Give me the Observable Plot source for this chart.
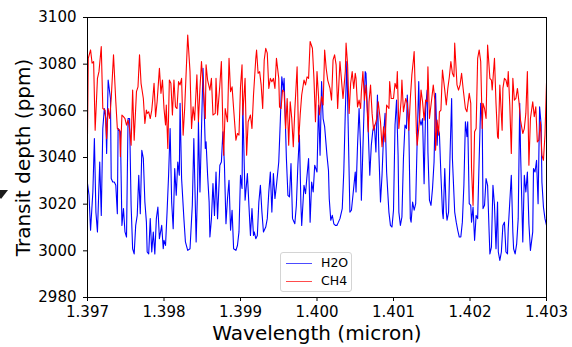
<!DOCTYPE html>
<html>
<head>
<meta charset="utf-8">
<script src="https://cdn.jsdelivr.net/npm/d3@7"></script>
<script src="https://cdn.jsdelivr.net/npm/@observablehq/plot@0.6"></script>
<style>
  html, body { margin: 0; padding: 0; background: #fff; }
  #wrap { position: relative; width: 572px; height: 347px; overflow: hidden; font-family: "DejaVu Sans", sans-serif; }
  #legend { position: absolute; left: 280px; top: 252px; width: 72px; height: 40px; border: 1px solid #d4d4d4; border-radius: 3px; background: rgba(255,255,255,0.85); box-sizing: border-box; }
  .row { position: absolute; left: 0; height: 14px; font-size: 12.5px; line-height: 14px; color: #000; }
  .sw { position: absolute; left: 5px; top: 7px; width: 26px; height: 0; border-top: 1.2px solid; }
  .lab { position: absolute; left: 40px; top: 0; white-space: nowrap; }
  #tri { position: absolute; left: -6px; top: 190px; width: 0; height: 0; border-left: 7px solid transparent; border-right: 7px solid transparent; border-top: 9px solid #1a1a1a; }
</style>
</head>
<body>
<div id="wrap"></div>
<script>
const xTicks = [1.397, 1.398, 1.399, 1.400, 1.401, 1.402, 1.403];
const yTicks = [2980, 3000, 3020, 3040, 3060, 3080, 3100];
const seriesNames = ["H2O", "CH4"];
const seriesColors = ["blue", "red"];

// [wavelength (micron), transit depth (ppm)]
const h2o = [
[1.39700,3028.8],[1.39702,3023.8],[1.39704,3008.8],[1.39707,3025.2],[1.39709,3048.1],[1.39711,3016.6],[1.39713,3008.1],[1.39716,3038.1],[1.39718,3015.2],[1.39720,3052.4],[1.39722,3061.0],[1.39724,3056.7],[1.39725,3041.7],[1.39727,3073.2],[1.39730,3065.3],[1.39731,3031.0],[1.39733,3029.5],[1.39735,3029.5],[1.39737,3028.1],[1.39739,3015.9],[1.39740,3052.4],[1.39743,3051.0],[1.39745,3010.9],[1.39747,3018.1],[1.39749,3008.1],[1.39751,3005.9],[1.39753,3056.7],[1.39755,3056.7],[1.39757,3019.5],[1.39759,3000.9],[1.39761,2998.7],[1.39763,3010.9],[1.39765,3015.2],[1.39767,3032.4],[1.39769,3015.9],[1.39771,3043.1],[1.39773,3039.6],[1.39775,3020.9],[1.39777,3012.3],[1.39778,2999.5],[1.39780,2998.7],[1.39782,3013.8],[1.39784,2999.5],[1.39786,3008.1],[1.39788,2998.7],[1.39790,3013.8],[1.39792,3018.8],[1.39794,3005.2],[1.39797,3010.9],[1.39799,3000.9],
[1.39800,3004.5],[1.39802,3002.3],[1.39804,3016.6],[1.39806,3032.4],[1.39808,3052.4],[1.39810,3020.9],[1.39812,3009.5],[1.39814,3035.3],[1.39816,3023.8],[1.39818,3038.1],[1.39820,3032.4],[1.39821,3063.2],[1.39823,3031.0],[1.39826,3013.8],[1.39828,3003.8],[1.39831,3000.2],[1.39834,3000.9],[1.39837,3019.5],[1.39839,3048.1],[1.39842,3003.8],[1.39844,3028.1],[1.39845,3055.3],[1.39847,3025.2],[1.39850,3065.3],[1.39851,3078.2],[1.39854,3043.9],[1.39855,3046.7],[1.39857,3032.4],[1.39859,3020.9],[1.39860,3005.9],[1.39862,3013.8],[1.39864,3028.8],[1.39866,3015.2],[1.39868,3033.8],[1.39870,3013.8],[1.39873,3036.7],[1.39875,3038.1],[1.39877,3051.0],[1.39879,3036.7],[1.39881,3011.6],[1.39883,3022.4],[1.39885,3030.2],[1.39887,3008.8],[1.39889,3017.4],[1.39891,3000.9],[1.39894,3000.2],[1.39896,3002.3],[1.39898,3008.1],
[1.39900,3032.4],[1.39902,3026.7],[1.39903,3063.2],[1.39906,3021.7],[1.39909,3033.1],[1.39911,3019.5],[1.39913,3006.6],[1.39915,3018.1],[1.39917,3006.6],[1.39918,3008.1],[1.39920,3005.2],[1.39922,3006.6],[1.39924,3020.9],[1.39926,3028.1],[1.39928,3016.6],[1.39930,3008.1],[1.39933,3010.2],[1.39935,3013.8],[1.39937,3025.2],[1.39939,3033.8],[1.39941,3016.6],[1.39943,3033.1],[1.39945,3022.4],[1.39947,3028.1],[1.39950,3038.1],[1.39952,3055.3],[1.39954,3074.6],[1.39956,3068.9],[1.39957,3073.9],[1.39960,3039.6],[1.39962,3023.8],[1.39964,3023.1],[1.39966,3037.4],[1.39968,3013.8],[1.39971,3011.6],[1.39973,3019.5],[1.39975,3036.7],[1.39977,3049.6],[1.39979,3019.5],[1.39980,3010.9],[1.39983,3028.1],[1.39985,3024.5],[1.39987,3032.4],[1.39989,3039.6],[1.39991,3012.3],[1.39993,3029.5],[1.39995,3025.2],[1.39997,3036.7],
[1.40000,3033.8],[1.40002,3062.5],[1.40004,3041.0],[1.40006,3072.5],[1.40008,3056.7],[1.40010,3053.2],[1.40013,3041.0],[1.40015,3034.5],[1.40016,3022.4],[1.40018,3013.1],[1.40020,3015.2],[1.40022,3011.6],[1.40024,3010.9],[1.40026,3010.9],[1.40028,3012.3],[1.40030,3013.8],[1.40033,3018.1],[1.40035,3033.8],[1.40037,3059.6],[1.40039,3081.1],[1.40041,3049.6],[1.40043,3016.6],[1.40045,3017.4],[1.40047,3023.8],[1.40050,3033.8],[1.40051,3025.2],[1.40053,3045.3],[1.40055,3061.0],[1.40057,3043.9],[1.40058,3021.7],[1.40060,3043.9],[1.40063,3076.8],[1.40064,3076.1],[1.40067,3051.0],[1.40069,3032.4],[1.40071,3045.3],[1.40073,3051.7],[1.40075,3053.9],[1.40077,3042.4],[1.40079,3066.8],[1.40081,3041.0],[1.40083,3020.9],[1.40085,3032.4],[1.40087,3049.6],[1.40089,3058.9],[1.40091,3033.8],[1.40094,3016.6],[1.40096,3010.9],[1.40098,3010.2],
[1.40100,3017.4],[1.40102,3053.9],[1.40104,3064.6],[1.40106,3041.0],[1.40107,3016.6],[1.40109,3010.9],[1.40111,3014.5],[1.40113,3039.6],[1.40115,3053.9],[1.40117,3052.4],[1.40118,3066.8],[1.40120,3052.4],[1.40122,3013.8],[1.40123,3012.3],[1.40125,3020.9],[1.40127,3017.4],[1.40129,3020.2],[1.40131,3048.1],[1.40133,3072.5],[1.40134,3056.7],[1.40136,3053.9],[1.40138,3056.7],[1.40140,3028.8],[1.40142,3061.0],[1.40144,3068.9],[1.40145,3042.4],[1.40147,3021.7],[1.40149,3019.5],[1.40151,3026.7],[1.40153,3038.1],[1.40155,3067.5],[1.40157,3045.3],[1.40158,3052.4],[1.40160,3050.3],[1.40162,3032.4],[1.40164,3016.6],[1.40165,3013.8],[1.40167,3035.3],[1.40169,3016.6],[1.40170,3013.1],[1.40172,3016.6],[1.40174,3042.4],[1.40176,3065.3],[1.40177,3039.6],[1.40180,3016.6],[1.40182,3012.3],[1.40184,3008.8],[1.40186,3005.9],[1.40188,3005.9],[1.40190,3012.3],[1.40192,3028.1],[1.40194,3055.3],[1.40196,3048.9],[1.40197,3055.3],
[1.40199,3020.2],[1.40201,3019.5],[1.40202,3012.3],[1.40204,3018.8],[1.40206,3004.5],[1.40208,3015.2],[1.40210,3013.8],[1.40212,3039.6],[1.40214,3063.2],[1.40216,3055.3],[1.40217,3018.1],[1.40219,3019.5],[1.40221,3031.0],[1.40223,3028.1],[1.40225,3008.1],[1.40226,2998.7],[1.40228,3001.6],[1.40230,3028.1],[1.40232,3019.5],[1.40234,3000.9],[1.40236,3020.9],[1.40237,2999.5],[1.40239,2995.9],[1.40241,2999.5],[1.40243,3010.9],[1.40245,3012.3],[1.40247,2999.5],[1.40249,2998.7],[1.40250,3009.5],[1.40252,3020.9],[1.40254,3032.4],[1.40256,3008.1],[1.40257,3000.9],[1.40259,2998.7],[1.40261,3003.0],[1.40263,3013.8],[1.40265,3063.2],[1.40266,3043.9],[1.40269,3003.8],[1.40271,3032.4],[1.40273,3025.2],[1.40275,3033.8],[1.40277,3011.6],[1.40279,3000.2],[1.40282,3008.1],[1.40283,3035.3],[1.40285,3033.8],[1.40287,3038.8],[1.40289,3020.2],[1.40291,3061.7],[1.40293,3053.9],[1.40294,3029.5],[1.40296,3018.8],[1.40298,3013.8],[1.40300,3010.9]
];

const ch4 = [
[1.39700,3050.0],[1.39701,3082.5],[1.39704,3086.1],[1.39706,3080.4],[1.39708,3081.1],[1.39710,3051.7],[1.39713,3073.9],[1.39715,3076.8],[1.39718,3087.5],[1.39720,3061.0],[1.39723,3060.3],[1.39725,3048.1],[1.39727,3061.0],[1.39729,3056.7],[1.39731,3065.3],[1.39734,3084.0],[1.39737,3063.9],[1.39739,3052.4],[1.39742,3051.7],[1.39743,3040.3],[1.39745,3058.2],[1.39747,3057.5],[1.39749,3056.7],[1.39751,3053.9],[1.39753,3056.0],[1.39755,3052.4],[1.39757,3045.3],[1.39759,3068.9],[1.39761,3047.4],[1.39764,3068.2],[1.39766,3070.3],[1.39768,3084.0],[1.39770,3071.8],[1.39773,3065.3],[1.39775,3054.6],[1.39777,3060.3],[1.39778,3058.9],[1.39780,3059.6],[1.39782,3056.7],[1.39784,3060.3],[1.39785,3063.9],[1.39787,3071.8],[1.39789,3057.5],[1.39791,3063.9],[1.39794,3078.2],[1.39796,3067.5],[1.39798,3073.2],
[1.39800,3061.0],[1.39802,3053.9],[1.39803,3062.5],[1.39805,3043.9],[1.39807,3073.2],[1.39809,3071.8],[1.39811,3058.2],[1.39813,3073.2],[1.39815,3061.7],[1.39817,3061.0],[1.39819,3072.5],[1.39821,3071.1],[1.39823,3073.9],[1.39825,3049.6],[1.39827,3061.0],[1.39829,3076.8],[1.39831,3092.5],[1.39834,3076.8],[1.39836,3052.4],[1.39838,3061.7],[1.39840,3056.0],[1.39843,3075.4],[1.39845,3055.3],[1.39847,3069.6],[1.39849,3081.1],[1.39851,3071.1],[1.39854,3056.7],[1.39855,3079.7],[1.39857,3073.2],[1.39860,3068.9],[1.39862,3073.9],[1.39864,3058.2],[1.39867,3058.9],[1.39868,3073.9],[1.39870,3058.2],[1.39873,3071.1],[1.39875,3081.1],[1.39877,3052.4],[1.39878,3041.0],[1.39880,3061.0],[1.39883,3055.3],[1.39885,3082.5],[1.39887,3068.2],[1.39889,3070.3],[1.39891,3061.0],[1.39894,3047.4],[1.39896,3050.3],[1.39898,3049.6],
[1.39900,3070.3],[1.39902,3079.7],[1.39903,3058.2],[1.39906,3073.9],[1.39908,3041.0],[1.39910,3055.3],[1.39913,3058.2],[1.39915,3052.4],[1.39917,3066.8],[1.39920,3082.5],[1.39921,3086.1],[1.39923,3076.1],[1.39925,3076.8],[1.39927,3071.1],[1.39929,3061.0],[1.39931,3081.8],[1.39933,3086.8],[1.39935,3084.7],[1.39937,3069.6],[1.39939,3073.9],[1.39941,3072.5],[1.39943,3073.9],[1.39945,3069.6],[1.39947,3082.5],[1.39950,3073.9],[1.39951,3061.7],[1.39953,3061.0],[1.39955,3068.9],[1.39957,3068.2],[1.39959,3052.4],[1.39961,3065.3],[1.39963,3045.3],[1.39965,3063.9],[1.39967,3056.7],[1.39969,3044.6],[1.39971,3060.3],[1.39974,3078.9],[1.39976,3046.7],[1.39978,3058.2],[1.39980,3066.8],[1.39983,3073.2],[1.39985,3071.1],[1.39987,3074.6],[1.39989,3073.9],[1.39991,3089.7],[1.39994,3086.8],[1.39996,3073.9],[1.39998,3055.3],
[1.40000,3076.8],[1.40002,3066.1],[1.40003,3058.2],[1.40006,3066.1],[1.40008,3062.5],[1.40010,3086.1],[1.40012,3078.2],[1.40014,3073.2],[1.40017,3069.6],[1.40019,3064.6],[1.40021,3081.8],[1.40023,3084.0],[1.40025,3079.7],[1.40027,3061.0],[1.40030,3081.1],[1.40032,3073.2],[1.40034,3065.3],[1.40037,3076.8],[1.40038,3089.0],[1.40040,3079.7],[1.40042,3058.9],[1.40044,3071.8],[1.40046,3076.8],[1.40048,3069.6],[1.40050,3076.1],[1.40051,3073.9],[1.40053,3061.7],[1.40055,3064.6],[1.40057,3061.0],[1.40058,3068.2],[1.40060,3076.8],[1.40062,3064.6],[1.40064,3071.1],[1.40067,3051.0],[1.40068,3063.9],[1.40070,3071.1],[1.40072,3058.9],[1.40074,3051.7],[1.40077,3055.3],[1.40078,3056.7],[1.40080,3063.9],[1.40083,3055.3],[1.40085,3044.6],[1.40087,3053.2],[1.40089,3046.7],[1.40091,3062.5],[1.40094,3061.0],[1.40095,3072.5],[1.40097,3065.3],
[1.40100,3065.3],[1.40102,3071.8],[1.40104,3069.6],[1.40105,3076.8],[1.40107,3052.4],[1.40110,3064.6],[1.40111,3073.2],[1.40113,3059.6],[1.40116,3065.3],[1.40118,3063.2],[1.40120,3051.7],[1.40122,3065.3],[1.40124,3075.4],[1.40126,3081.8],[1.40127,3085.4],[1.40130,3050.3],[1.40131,3045.3],[1.40134,3056.0],[1.40136,3068.9],[1.40138,3063.9],[1.40140,3056.0],[1.40142,3064.6],[1.40144,3063.9],[1.40145,3078.9],[1.40147,3056.7],[1.40150,3065.3],[1.40152,3071.1],[1.40154,3064.6],[1.40155,3043.1],[1.40157,3056.0],[1.40159,3049.6],[1.40160,3059.6],[1.40162,3060.3],[1.40164,3077.5],[1.40167,3068.9],[1.40169,3062.5],[1.40171,3069.6],[1.40173,3074.6],[1.40175,3081.1],[1.40177,3076.1],[1.40179,3074.6],[1.40180,3089.0],[1.40183,3071.1],[1.40185,3068.9],[1.40187,3071.1],[1.40189,3076.1],[1.40191,3069.6],[1.40194,3061.0],[1.40196,3059.6],
[1.40199,3067.5],[1.40201,3063.2],[1.40202,3035.3],[1.40204,3019.5],[1.40206,3051.0],[1.40208,3052.4],[1.40210,3082.5],[1.40212,3086.1],[1.40214,3081.1],[1.40216,3052.4],[1.40217,3063.2],[1.40219,3061.0],[1.40221,3056.7],[1.40223,3088.2],[1.40226,3073.9],[1.40228,3073.2],[1.40229,3068.9],[1.40232,3082.5],[1.40234,3063.2],[1.40236,3048.9],[1.40237,3048.1],[1.40239,3071.1],[1.40242,3051.7],[1.40243,3069.6],[1.40245,3073.9],[1.40247,3073.2],[1.40249,3070.3],[1.40250,3076.8],[1.40252,3062.5],[1.40254,3041.7],[1.40256,3073.9],[1.40258,3064.6],[1.40260,3065.3],[1.40262,3069.6],[1.40264,3063.9],[1.40266,3056.0],[1.40269,3050.3],[1.40271,3052.4],[1.40273,3058.9],[1.40275,3076.8],[1.40277,3036.7],[1.40279,3056.7],[1.40282,3063.9],[1.40284,3057.5],[1.40286,3061.7],[1.40288,3046.7],[1.40290,3047.4],[1.40292,3055.3],[1.40294,3041.0],[1.40296,3038.8],[1.40298,3049.6],[1.40300,3071.8]
];

const chart = Plot.plot({
  width: 572,
  height: 347,
  marginLeft: 87,
  marginRight: 26,
  marginTop: 17,
  marginBottom: 50,
  style: { fontFamily: "DejaVu Sans, sans-serif", background: "#fff", color: "#000", overflow: "visible" },
  x: { domain: [1.397, 1.403] },
  y: { domain: [2980, 3100] },
  marks: [
    Plot.line(h2o, { x: d => d[0], y: d => d[1], stroke: seriesColors[0], strokeWidth: 1.1, clip: true }),
    Plot.line(ch4, { x: d => d[0], y: d => d[1], stroke: seriesColors[1], strokeWidth: 1.1, clip: true }),
    Plot.frame({ stroke: "#000", strokeWidth: 1 }),
    Plot.axisX({ ticks: xTicks, tickFormat: d3.format(".3f"), tickSize: 4, tickPadding: 5, fontSize: 15, label: null }),
    Plot.axisY({ ticks: yTicks, tickFormat: d3.format("d"), tickSize: 4, tickPadding: 7, fontSize: 15, label: null }),
    Plot.text(["Wavelength (micron)"], { frameAnchor: "bottom", dy: 36, fontSize: 20, lineAnchor: "middle", textAnchor: "middle" }),
    Plot.text(["Transit depth (ppm)"], { frameAnchor: "left", dx: -64, rotate: -90, fontSize: 20, lineAnchor: "middle", textAnchor: "middle" })
  ]
});

const wrap = document.getElementById("wrap");
wrap.appendChild(chart);

const legend = document.createElement("div");
legend.id = "legend";
seriesNames.forEach((name, i) => {
  const row = document.createElement("div");
  row.className = "row";
  row.style.top = (3 + i * 18) + "px";
  row.style.width = "100%";
  const sw = document.createElement("div");
  sw.className = "sw";
  sw.style.borderTopColor = seriesColors[i];
  sw.style.opacity = "0.7";
  const lab = document.createElement("span");
  lab.className = "lab";
  lab.textContent = name;
  row.appendChild(sw);
  row.appendChild(lab);
  legend.appendChild(row);
});
wrap.appendChild(legend);

const tri = document.createElement("div");
tri.id = "tri";
wrap.appendChild(tri);
</script>
</body>
</html>
